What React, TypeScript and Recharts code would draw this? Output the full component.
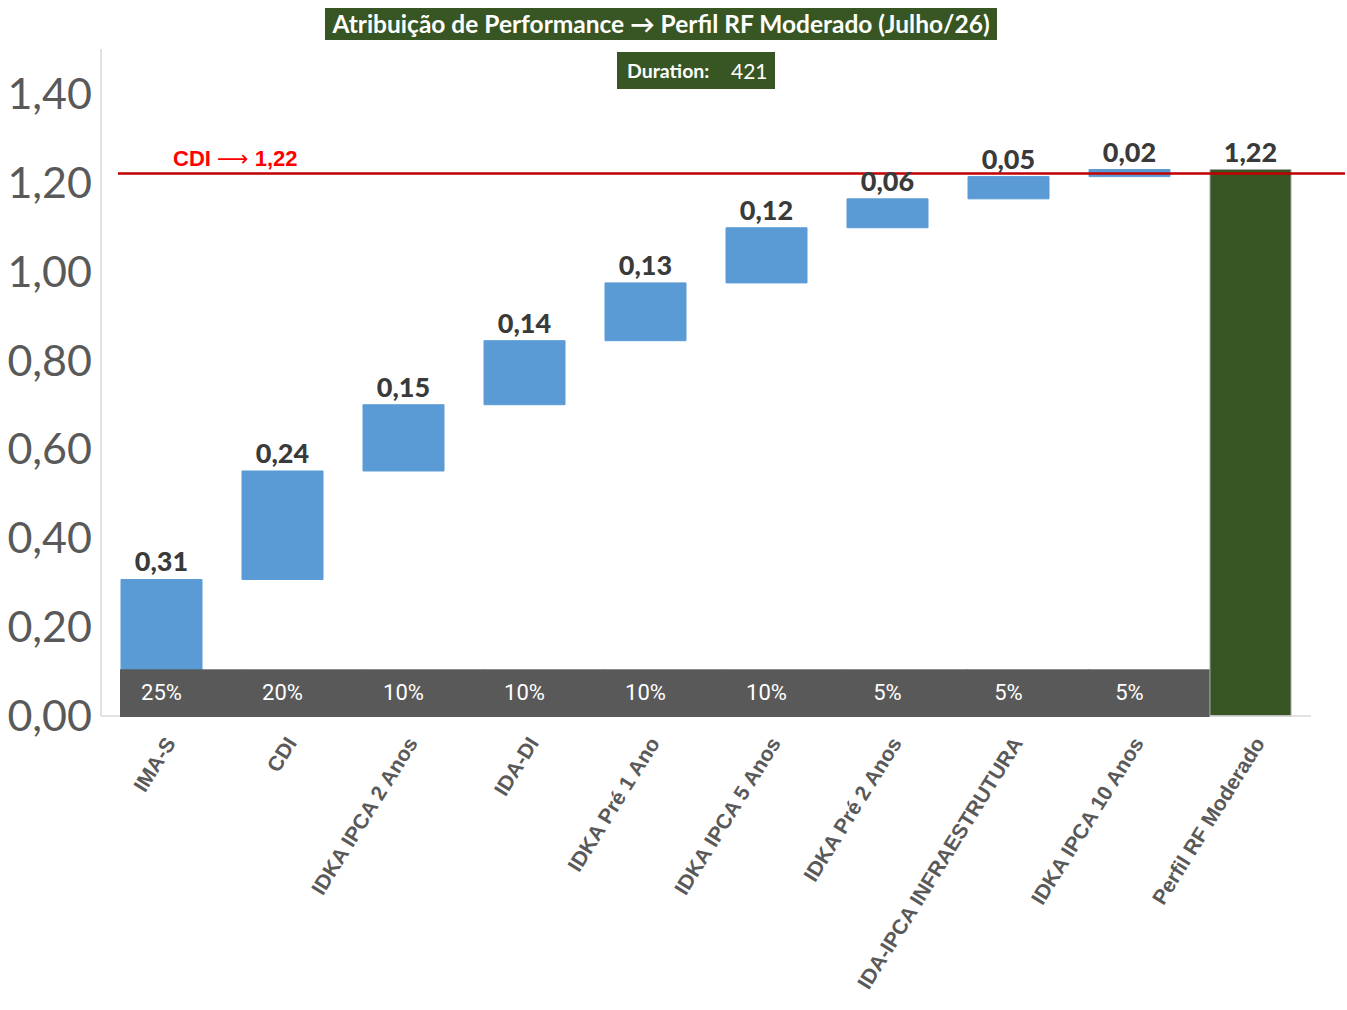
import React from "react";
import {
  BarChart,
  Bar,
  Cell,
  XAxis,
  YAxis,
  ReferenceLine,
  LabelList,
} from "recharts";

const categories = [
  "IMA-S",
  "CDI",
  "IDKA IPCA 2 Anos",
  "IDA-DI",
  "IDKA Pré 1 Ano",
  "IDKA IPCA 5 Anos",
  "IDKA Pré 2 Anos",
  "IDA-IPCA INFRAESTRUTURA",
  "IDKA IPCA 10 Anos",
  "Perfil RF Moderado",
];
// floating bar edges
const barLow = [0, 0.307, 0.551, 0.7, 0.844, 0.974, 1.098, 1.163, 1.213, 0];
const barHigh = [0.307, 0.551, 0.7, 0.844, 0.974, 1.098, 1.163, 1.213, 1.229, 1.229];
const valueLabels = ["0,31", "0,24", "0,15", "0,14", "0,13", "0,12", "0,06", "0,05", "0,02", "1,22"];
const weights = ["25%", "20%", "10%", "10%", "10%", "10%", "5%", "5%", "5%"];
const yTicks = [0, 0.2, 0.4, 0.6, 0.8, 1.0, 1.2, 1.4];
const cdiLevel = 1.22;
const weightBandTop = 0.105;

const data = categories.map((name, i) => ({
  name,
  range: [barLow[i], barHigh[i]],
  label: valueLabels[i],
}));

const weightRows = categories.map((name, i) => ({
  name,
  band: i < weights.length ? [0, weightBandTop] : null,
  w: weights[i] ?? "",
}));

const BLUE = "#5B9BD5";
const GREEN = "#375623";
const MARGIN = { top: 49, right: 36, bottom: 0, left: 0 };

function CategoryTick(props: any) {
  const { x, y, payload } = props;
  const ax = x + 15;
  const ay = y + 27;
  return (
    <text
      x={ax}
      y={ay}
      transform={`rotate(-58 ${ax} ${ay})`}
      textAnchor="end"
      fontFamily="'Liberation Sans', Arial, sans-serif"
      fontWeight={700}
      fontSize={21}
      fill="#595959"
    >
      {payload.value}
    </text>
  );
}

function ValueLabel(props: any) {
  const { x, y, width, height, value } = props;
  const top = Math.min(y, y + height);
  return (
    <text
      x={x + width / 2}
      y={top - 8}
      textAnchor="middle"
      fontFamily="Lato, 'Open Sans', sans-serif"
      fontWeight={900}
      fontSize={27}
      fill="#3A3A3A"
    >
      {value}
    </text>
  );
}

function WeightLabel(props: any) {
  const { x, y, width, height, value } = props;
  if (!value) return null;
  return (
    <text
      x={x + width / 2}
      y={y + height / 2 + 2}
      textAnchor="middle"
      dominantBaseline="middle"
      fontFamily="Roboto, Arial, sans-serif"
      fontSize={22}
      fill="#FFFFFF"
    >
      {value}
    </text>
  );
}

function CdiLabel(props: any) {
  const vb = props.viewBox ?? {};
  return (
    <text
      x={(vb.x ?? 0) + 72}
      y={(vb.y ?? 0) - 8}
      fontFamily="'Liberation Sans', Arial, sans-serif"
      fontWeight={700}
      fontSize={22}
      fill="#FF0000"
    >
      CDI{" "}
      <tspan fontFamily="'DejaVu Sans', sans-serif" fontWeight={400} fontSize={22}>
        ⟶
      </tspan>{" "}
      1,22
    </text>
  );
}

export default function App() {
  return (
    <div style={{ position: "relative", width: 1347, height: 1010, background: "#fff" }}>
      <style>{`body{margin:0}`}</style>
      <div
        style={{
          position: "absolute",
          left: 325,
          top: 8,
          width: 672,
          height: 32,
          background: GREEN,
          color: "#fff",
          fontFamily: "Lato, 'Open Sans', sans-serif",
          fontWeight: 700,
          fontSize: 24.5,
          lineHeight: "32px",
          textAlign: "center",
          whiteSpace: "nowrap",
          zIndex: 2,
        }}
      >
        Atribuição de Performance → Perfil RF Moderado (Julho/26)
      </div>
      <div
        style={{
          position: "absolute",
          left: 617,
          top: 52,
          width: 158,
          height: 37,
          background: GREEN,
          color: "#fff",
          fontFamily: "Lato, 'Open Sans', sans-serif",
          lineHeight: "37px",
          whiteSpace: "nowrap",
          zIndex: 2,
        }}
      >
        <span style={{ position: "absolute", left: 10, fontWeight: 700, fontSize: 19.5 }}>Duration:</span>
        <span style={{ position: "absolute", left: 114, fontSize: 21 }}>421</span>
      </div>

      <div style={{ position: "absolute", left: 0, top: 0 }}>
        <BarChart width={1347} height={1010} data={data} margin={MARGIN} barSize={81}>
          <XAxis
            dataKey="name"
            interval={0}
            height={294}
            tickLine={false}
            tickSize={0}
            tickMargin={0}
            axisLine={{ stroke: "#D9D9D9", strokeWidth: 1.5 }}
            tick={<CategoryTick />}
          />
          <YAxis
            width={101}
            domain={[0, 1.5]}
            ticks={yTicks}
            interval={0}
            tickLine={false}
            tickSize={0}
            tickMargin={9}
            axisLine={{ stroke: "#D9D9D9", strokeWidth: 1.5 }}
            tickFormatter={(v: number) => v.toFixed(2).replace(".", ",")}
            tick={{ fontSize: 43, fill: "#595959", fontFamily: "Lato, 'Open Sans', sans-serif" }}
          />
          <Bar dataKey="range" isAnimationActive={false}>
            {data.map((d, i) => (
              <Cell
                key={d.name}
                fill={i === data.length - 1 ? GREEN : BLUE}
                stroke={i === data.length - 1 ? "#A6A6A6" : BLUE}
                strokeWidth={1}
              />
            ))}
            <LabelList dataKey="label" content={<ValueLabel />} />
          </Bar>
          <ReferenceLine
            y={cdiLevel}
            ifOverflow="visible"
            shape={(p: any) => (
              <line x1={p.x1 + 17} y1={p.y1} x2={p.x2 + 34} y2={p.y2} stroke="#C00000" strokeWidth={2.5} />
            )}
            label={<CdiLabel />}
          />
        </BarChart>
      </div>

      {/* allocation weights strip, drawn over the bars */}
      <div style={{ position: "absolute", left: 0, top: 0, pointerEvents: "none" }}>
        <BarChart width={1347} height={1010} data={weightRows} margin={MARGIN} barCategoryGap={0}>
          <XAxis dataKey="name" interval={0} height={294} tick={false} tickLine={false} axisLine={false} />
          <YAxis width={101} domain={[0, 1.5]} ticks={yTicks} tick={false} tickLine={false} axisLine={false} />
          <Bar
            dataKey="band"
            isAnimationActive={false}
            shape={(p: any) => (
              <rect x={p.x + 19} y={p.y} width={p.width + 0.6} height={p.height + 1} fill="#595959" />
            )}
          >
            <LabelList dataKey="w" content={<WeightLabel />} />
          </Bar>
        </BarChart>
      </div>
    </div>
  );
}
